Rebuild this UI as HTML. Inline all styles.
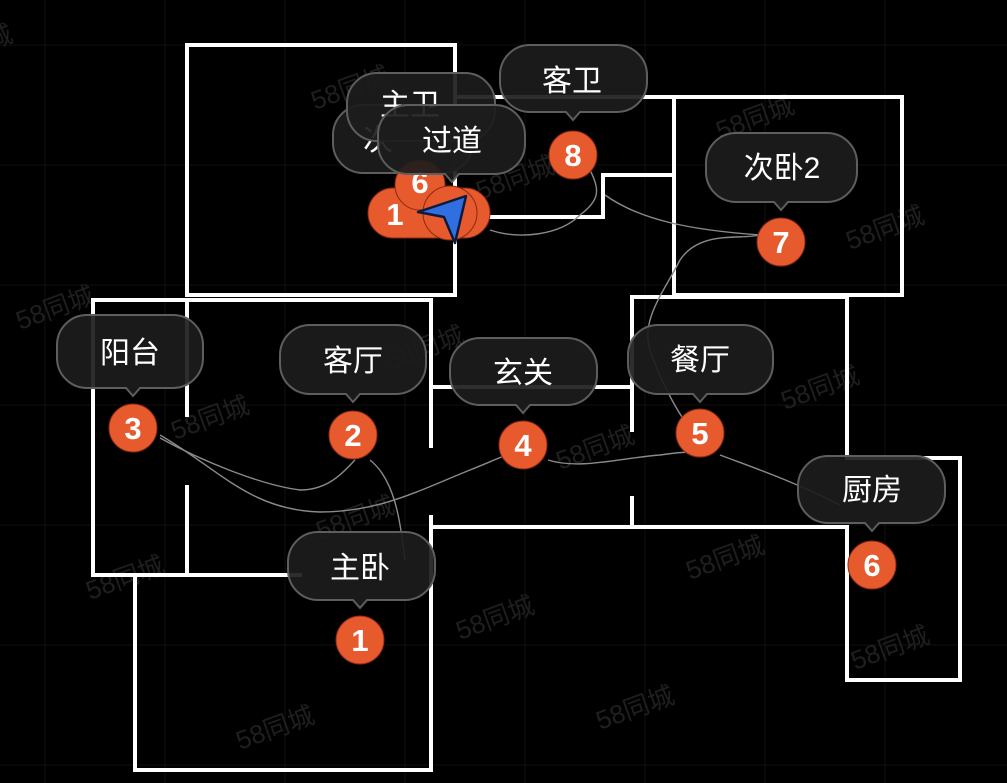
<!DOCTYPE html>
<html><head><meta charset="utf-8"><style>
html,body{margin:0;padding:0;background:#000;}
svg{display:block}
.b{fill:rgba(28,28,28,0.92);stroke:#5e5e5e;stroke-width:2}
.bt{fill:#fff;font-family:"Liberation Sans","Noto Sans CJK SC",sans-serif;font-size:30px;text-anchor:middle}
.pn{fill:#e65a2e;stroke:#8a2a10;stroke-width:1}
.pt{fill:#fff;font-family:"Liberation Sans",sans-serif;font-weight:bold;font-size:31px;text-anchor:middle}
.w{stroke:#fff;stroke-width:4;fill:none;stroke-linecap:square}
.p{stroke:#8a8a8a;stroke-width:1.4;fill:none}
.wm{fill:#1f1f1f;font-family:"Liberation Sans","Noto Sans CJK SC",sans-serif;font-size:26px}
</style></head><body>
<svg width="1007" height="783" viewBox="0 0 1007 783" xmlns="http://www.w3.org/2000/svg">
<rect width="1007" height="783" fill="#000"/>
<g stroke="#111" stroke-width="1">
<line x1="0" y1="45" x2="1007" y2="45"/><line x1="0" y1="165" x2="1007" y2="165"/><line x1="0" y1="285" x2="1007" y2="285"/><line x1="0" y1="405" x2="1007" y2="405"/><line x1="0" y1="525" x2="1007" y2="525"/><line x1="0" y1="645" x2="1007" y2="645"/><line x1="0" y1="765" x2="1007" y2="765"/>
<line x1="45" y1="0" x2="45" y2="783"/><line x1="165" y1="0" x2="165" y2="783"/><line x1="285" y1="0" x2="285" y2="783"/><line x1="405" y1="0" x2="405" y2="783"/><line x1="525" y1="0" x2="525" y2="783"/><line x1="645" y1="0" x2="645" y2="783"/><line x1="765" y1="0" x2="765" y2="783"/><line x1="885" y1="0" x2="885" y2="783"/>
</g>
<g class="wm">
<text transform="translate(315,110) rotate(-20)">58同城</text>
<text transform="translate(720,140) rotate(-20)">58同城</text>
<text transform="translate(850,250) rotate(-20)">58同城</text>
<text transform="translate(20,330) rotate(-20)">58同城</text>
<text transform="translate(175,440) rotate(-20)">58同城</text>
<text transform="translate(390,370) rotate(-20)">58同城</text>
<text transform="translate(560,470) rotate(-20)">58同城</text>
<text transform="translate(785,410) rotate(-20)">58同城</text>
<text transform="translate(320,540) rotate(-20)">58同城</text>
<text transform="translate(690,580) rotate(-20)">58同城</text>
<text transform="translate(90,600) rotate(-20)">58同城</text>
<text transform="translate(460,640) rotate(-20)">58同城</text>
<text transform="translate(855,670) rotate(-20)">58同城</text>
<text transform="translate(600,730) rotate(-20)">58同城</text>
<text transform="translate(240,750) rotate(-20)">58同城</text>
<text transform="translate(480,200) rotate(-20)">58同城</text>
<text transform="translate(-10,50) rotate(-20)">城</text>
</g>
<g class="w">
<polyline points="187,295 187,45 455,45 455,295 187,295"/>
<line x1="455" y1="97" x2="902" y2="97"/>
<polyline points="674,97 674,295 902,295 902,97"/>
<polyline points="490,217 603,217 603,175 674,175"/>
<polyline points="187,300 93,300 93,575 300,575"/>
<line x1="93" y1="300" x2="431" y2="300"/>
<line x1="187" y1="300" x2="187" y2="415"/>
<line x1="187" y1="487" x2="187" y2="575"/>
<line x1="431" y1="300" x2="431" y2="446"/>
<polyline points="135,575 135,770 431,770 431,517"/>
<line x1="431" y1="387" x2="632" y2="387"/>
<line x1="431" y1="527" x2="847" y2="527"/>
<polyline points="632,430 632,297 847,297 847,458"/>
<line x1="632" y1="498" x2="632" y2="527"/>
<polyline points="847,458 960,458 960,680 847,680 847,527"/>
</g>
<g class="p">
<path d="M160,438 C200,460 260,485 300,490 C330,490 345,470 355,460"/>
<path d="M160,435 C220,470 250,510 320,512 C380,512 420,490 470,470 C490,462 505,455 520,450"/>
<path d="M370,460 C395,480 400,520 405,560"/>
<path d="M548,460 C580,470 620,458 660,455 C680,452 690,452 700,452"/>
<path d="M700,440 C680,420 660,380 650,350 C640,320 665,290 680,260 C700,230 740,240 760,235"/>
<path d="M720,455 C760,470 790,480 840,505"/>
<path d="M490,230 C520,240 560,235 580,215 C600,200 600,190 590,170"/>
<path d="M605,195 C640,220 690,230 760,235"/>
</g>
<rect class="b" x="333" y="105" width="140" height="68" rx="30"/>
<text class="bt" x="378" y="150">次</text>
<rect class="b" x="347" y="73" width="148" height="68" rx="30"/>
<text class="bt" x="410" y="115">主卫</text>
<rect class="pn" x="368" y="188" width="122" height="50" rx="25"/>
<text class="pt" x="395" y="225">1</text>
<circle class="pn" cx="420" cy="185" r="25"/>
<text class="pt" x="420" y="193">6</text>
<circle class="pn" cx="450" cy="213" r="27"/>
<path d="M418,212 L466,196 L455,243 L444,217 Z" fill="#2f6fe0" stroke="#0d1a40" stroke-width="2.5" stroke-linejoin="round"/>
<g>
<path class="b" d="M87,315 H173 A30,30 0 0 1 203,345 V358 A30,30 0 0 1 173,388 H140 L133,396 L126,388 H87 A30,30 0 0 1 57,358 V345 A30,30 0 0 1 87,315 Z"/>
<text class="bt" x="130" y="363">阳台</text>
<path class="b" d="M310,325 H396 A30,30 0 0 1 426,355 V364 A30,30 0 0 1 396,394 H360 L353,402 L346,394 H310 A30,30 0 0 1 280,364 V355 A30,30 0 0 1 310,325 Z"/>
<text class="bt" x="353" y="371">客厅</text>
<path class="b" d="M480,338 H567 A30,30 0 0 1 597,368 V375 A30,30 0 0 1 567,405 H530 L523,413 L516,405 H480 A30,30 0 0 1 450,375 V368 A30,30 0 0 1 480,338 Z"/>
<text class="bt" x="523" y="383">玄关</text>
<path class="b" d="M658,325 H743 A30,30 0 0 1 773,355 V364 A30,30 0 0 1 743,394 H707 L700,402 L693,394 H658 A30,30 0 0 1 628,364 V355 A30,30 0 0 1 658,325 Z"/>
<text class="bt" x="700" y="370">餐厅</text>
<path class="b" d="M828,456 H915 A30,30 0 0 1 945,486 V493 A30,30 0 0 1 915,523 H879 L872,531 L865,523 H828 A30,30 0 0 1 798,493 V486 A30,30 0 0 1 828,456 Z"/>
<text class="bt" x="872" y="500">厨房</text>
<path class="b" d="M736,133 H827 A30,30 0 0 1 857,163 V172 A30,30 0 0 1 827,202 H788 L781,210 L774,202 H736 A30,30 0 0 1 706,172 V163 A30,30 0 0 1 736,133 Z"/>
<text class="bt" x="782" y="178">次卧2</text>
<path class="b" d="M530,45 H617 A30,30 0 0 1 647,75 V82 A30,30 0 0 1 617,112 H580 L573,120 L566,112 H530 A30,30 0 0 1 500,82 V75 A30,30 0 0 1 530,45 Z"/>
<text class="bt" x="572" y="91">客卫</text>
<path class="b" d="M318,532 H405 A30,30 0 0 1 435,562 V570 A30,30 0 0 1 405,600 H367 L360,608 L353,600 H318 A30,30 0 0 1 288,570 V562 A30,30 0 0 1 318,532 Z"/>
<text class="bt" x="360" y="578">主卧</text>
<path class="b" d="M408,105 H495 A30,30 0 0 1 525,135 V144 A30,30 0 0 1 495,174 H459 L452,182 L445,174 H408 A30,30 0 0 1 378,144 V135 A30,30 0 0 1 408,105 Z"/>
<text class="bt" x="452" y="151">过道</text>
</g>
<circle class="pn" cx="133" cy="428" r="24"/><text class="pt" x="133" y="439">3</text>
<circle class="pn" cx="353" cy="435" r="24"/><text class="pt" x="353" y="446">2</text>
<circle class="pn" cx="523" cy="445" r="24"/><text class="pt" x="523" y="456">4</text>
<circle class="pn" cx="700" cy="433" r="24"/><text class="pt" x="700" y="444">5</text>
<circle class="pn" cx="872" cy="565" r="24"/><text class="pt" x="872" y="576">6</text>
<circle class="pn" cx="781" cy="242" r="24"/><text class="pt" x="781" y="253">7</text>
<circle class="pn" cx="573" cy="155" r="24"/><text class="pt" x="573" y="166">8</text>
<circle class="pn" cx="360" cy="640" r="24"/><text class="pt" x="360" y="651">1</text>
</svg>
</body></html>
